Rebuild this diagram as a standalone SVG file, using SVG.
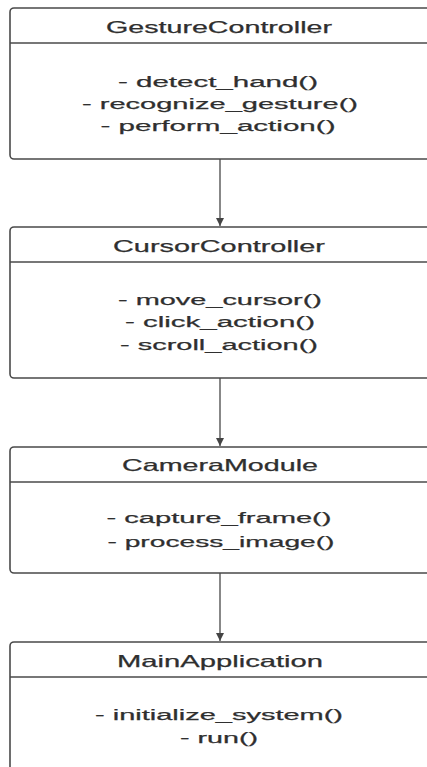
<svg xmlns="http://www.w3.org/2000/svg" width="427" height="767" viewBox="0 0 427 767">
<style>
.box{fill:#fff;stroke:#4a4a4a;stroke-width:1.6}
.div{stroke:#4a4a4a;stroke-width:1.6}
.t{font-family:"Liberation Sans",Arial,sans-serif;font-size:16.5px;fill:#2f2f2f;stroke:#2f2f2f;stroke-width:0.25;text-anchor:middle}
.m{font-size:15.5px}
.conn{stroke:#555;stroke-width:1.4;fill:none}
</style>
<defs>
<marker id="arr" viewBox="0 0 10 10" refX="10" refY="5" markerWidth="8" markerHeight="8" markerUnits="userSpaceOnUse" orient="auto">
<path d="M0,0 L10,5 L0,10 z" fill="#444"/>
</marker>
</defs>
<rect width="427" height="767" fill="#fff"/>
<g id="connectors">
<line class="conn" x1="220" y1="159" x2="220" y2="226" marker-end="url(#arr)"/>
<line class="conn" x1="220" y1="378" x2="220" y2="446" marker-end="url(#arr)"/>
<line class="conn" x1="220" y1="573" x2="220" y2="641" marker-end="url(#arr)"/>
</g>
<g id="GestureController">
<rect class="box" x="10" y="8" width="430" height="151" rx="4"/>
<line class="div" x1="10" y1="43" x2="440" y2="43"/>
<text class="t" x="219" y="33" textLength="226" lengthAdjust="spacingAndGlyphs">GestureController</text>
<text class="t m" x="218" y="87" textLength="200" lengthAdjust="spacingAndGlyphs">- detect_hand()</text>
<text class="t m" x="220" y="109" textLength="276" lengthAdjust="spacingAndGlyphs">- recognize_gesture()</text>
<text class="t m" x="218" y="131" textLength="235" lengthAdjust="spacingAndGlyphs">- perform_action()</text>
</g>
<g id="CursorController">
<rect class="box" x="10" y="227" width="430" height="151" rx="4"/>
<line class="div" x1="10" y1="262" x2="440" y2="262"/>
<text class="t" x="219" y="252" textLength="212" lengthAdjust="spacingAndGlyphs">CursorController</text>
<text class="t m" x="220" y="305" textLength="204" lengthAdjust="spacingAndGlyphs">- move_cursor()</text>
<text class="t m" x="220" y="327" textLength="190" lengthAdjust="spacingAndGlyphs">- click_action()</text>
<text class="t m" x="219" y="350" textLength="198" lengthAdjust="spacingAndGlyphs">- scroll_action()</text>
</g>
<g id="CameraModule">
<rect class="box" x="10" y="447" width="430" height="126" rx="4"/>
<line class="div" x1="10" y1="482" x2="440" y2="482"/>
<text class="t" x="220" y="471" textLength="196" lengthAdjust="spacingAndGlyphs">CameraModule</text>
<text class="t m" x="219" y="523" textLength="225" lengthAdjust="spacingAndGlyphs">- capture_frame()</text>
<text class="t m" x="221" y="547" textLength="227" lengthAdjust="spacingAndGlyphs">- process_image()</text>
</g>
<g id="MainApplication">
<rect class="box" x="10" y="642" width="430" height="140" rx="4"/>
<line class="div" x1="10" y1="677" x2="440" y2="677"/>
<text class="t" x="220" y="667" textLength="206" lengthAdjust="spacingAndGlyphs">MainApplication</text>
<text class="t m" x="219" y="720" textLength="248" lengthAdjust="spacingAndGlyphs">- initialize_system()</text>
<text class="t m" x="219" y="743" textLength="78" lengthAdjust="spacingAndGlyphs">- run()</text>
</g>
</svg>
